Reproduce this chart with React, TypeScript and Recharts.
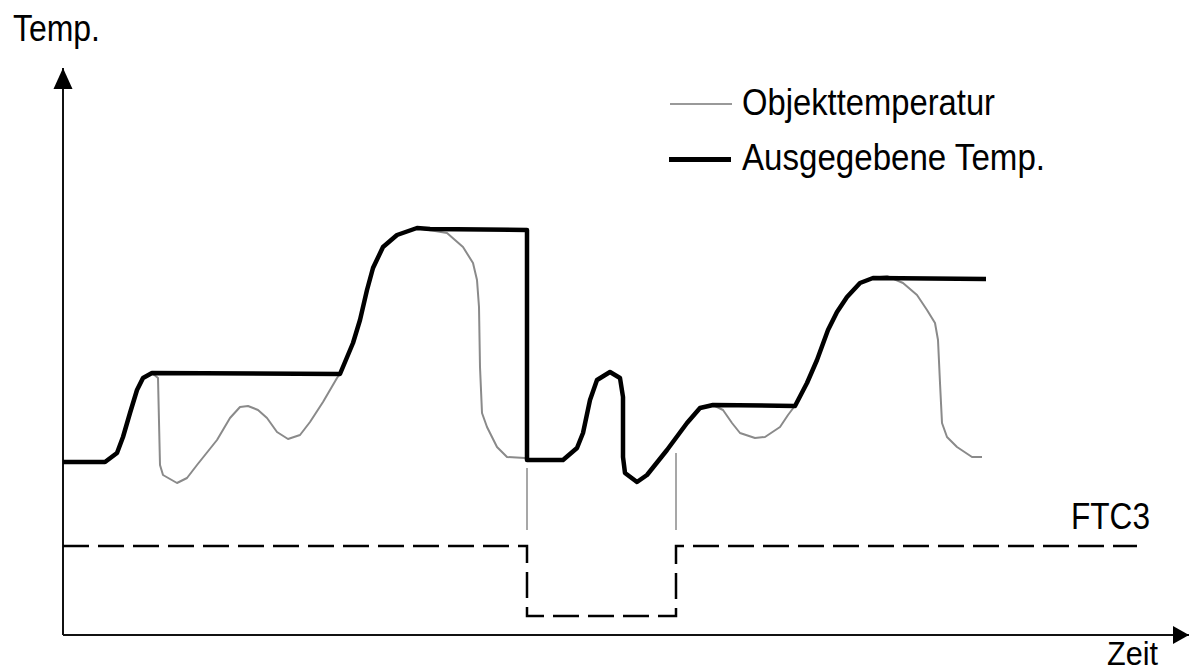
import { LineChart, Line, XAxis, YAxis, ReferenceDot, ReferenceLine, Legend } from "recharts";

const FONT = '"Liberation Sans", Arial, sans-serif';

// [Zeit, Temp.] (arbitrary units, 0 = axis origin)
const objektTemperatur: [number, number][] = [
  [0, 173], [42, 173], [54, 182], [60, 198], [67, 222], [74, 245], [80, 257], [89, 262],
  [95, 257], [97, 170], [100, 160], [114, 152], [124, 157], [134, 170], [154, 195], [167, 217],
  [177, 228], [185, 229], [195, 225], [204, 217], [214, 203], [225, 196], [237, 200], [247, 213],
  [260, 233], [274, 257], [277, 261], [290, 292], [297, 315], [304, 345], [310, 367], [320, 388],
  [334, 400], [354, 407], [360, 406], [384, 402], [400, 388], [410, 372], [414, 355], [416, 328],
  [417, 268], [419, 222], [424, 208], [434, 188], [444, 178], [462, 177], [464, 175],
  [500, 175], [514, 187], [520, 202], [527, 235], [534, 255], [547, 263], [557, 257], [560, 238],
  [560, 178], [562, 162], [574, 153], [584, 160], [604, 185], [624, 212], [637, 227], [650, 230],
  [660, 225], [669, 212], [677, 202], [692, 197], [702, 198], [717, 208], [725, 220], [734, 232],
  [744, 252], [754, 275], [765, 305], [774, 323], [784, 338], [797, 352], [810, 357], [824, 359],
  [840, 352], [854, 340], [864, 325], [872, 312], [875, 295], [877, 252], [879, 212], [884, 198],
  [894, 188], [909, 178], [919, 178],
];

const ausgegebeneTemp: [number, number][] = [
  [0, 173], [42, 173], [54, 182], [60, 198], [67, 222], [74, 245], [80, 257], [89, 262],
  [277, 261], [290, 292], [297, 315], [304, 345], [310, 367], [320, 388], [334, 400], [354, 407],
  [367, 406], [464, 405], [464, 175], [500, 175], [514, 187], [520, 202], [527, 235], [534, 255],
  [547, 263], [557, 257], [560, 238], [560, 178], [562, 162], [574, 153], [584, 160], [604, 185],
  [624, 212], [637, 227], [650, 230], [732, 229], [744, 252], [754, 275], [765, 305], [774, 323],
  [784, 338], [797, 352], [810, 357], [923, 356],
];

const ftc3Signal: [number, number][] = [
  [0, 89], [464, 89], [464, 19], [613, 19], [613, 89], [1074, 89],
];

const markerZeiten = [464, 613];
const markerOben = [167, 182];
const markerUnten = 105;

const ZEIT_MAX = 1126;
const TEMP_MAX = 567;

const toRows = (pts: [number, number][]) => pts.map(([t, v]) => ({ t, v }));

const textStyle = { fontFamily: FONT, fontSize: 36, fill: "#000" };

function ArrowUp({ cx, cy }: any) {
  return (
    <g>
      <path d={`M${cx},${cy} L${cx - 9.5},${cy + 21} L${cx + 9.5},${cy + 21} Z`} fill="#000" />
      <text x={cx - 50} y={cy - 27} textLength={87} lengthAdjust="spacingAndGlyphs" {...textStyle}>
        Temp.
      </text>
    </g>
  );
}

function ArrowRight({ cx, cy }: any) {
  return (
    <g>
      <path d={`M${cx},${cy} L${cx - 16},${cy - 9} L${cx - 16},${cy + 9} Z`} fill="#000" />
      <text x={cx - 82} y={cy + 30} textLength={51} lengthAdjust="spacingAndGlyphs" {...textStyle} fontSize={34}>
        Zeit
      </text>
    </g>
  );
}

function Ftc3Label(props: any) {
  const { x, y, index } = props;
  if (index !== ftc3Signal.length - 1) return <g />;
  return (
    <text x={x + 13} y={y - 17.5} textAnchor="end" textLength={79} lengthAdjust="spacingAndGlyphs" {...textStyle}>
      FTC3
    </text>
  );
}

function LegendBox() {
  return (
    <svg width={420} height={100}>
      <line x1={10} x2={72} y1={24} y2={24} stroke="#999" strokeWidth={2} />
      <text x={82} y={35} textLength={253} lengthAdjust="spacingAndGlyphs" {...textStyle}>
        Objekttemperatur
      </text>
      <line x1={9} x2={71} y1={79.5} y2={79.5} stroke="#000" strokeWidth={5} />
      <text x={82} y={90} textLength={303} lengthAdjust="spacingAndGlyphs" {...textStyle}>
        Ausgegebene Temp.
      </text>
    </svg>
  );
}

export default function App() {
  return (
    <div style={{ position: "absolute", left: 0, top: 0, width: 1189, height: 672, background: "#fff" }}>
      <LineChart width={1189} height={672} margin={{ top: 68, right: 0, bottom: 37, left: 63 }}>
        <XAxis type="number" dataKey="t" domain={[0, ZEIT_MAX]} hide />
        <YAxis type="number" dataKey="v" domain={[0, TEMP_MAX]} hide />
        {/* axes drawn as lines so they sit exactly on the origin */}
        <ReferenceLine y={0} stroke="#111" strokeWidth={2} ifOverflow="visible" />
        <ReferenceLine x={0} stroke="#111" strokeWidth={2} ifOverflow="visible" />
        {markerZeiten.map((t, i) => (
          <ReferenceLine
            key={t}
            segment={[{ x: t, y: markerUnten }, { x: t, y: markerOben[i] }]}
            stroke="#8a8a8a"
            strokeWidth={1.5}
            ifOverflow="visible"
          />
        ))}
        <Line
          data={toRows(ftc3Signal)}
          dataKey="v"
          type="linear"
          stroke="#000"
          strokeWidth={2.5}
          strokeDasharray="26 9"
          dot={false}
          activeDot={false}
          label={Ftc3Label}
          isAnimationActive={false}
        />
        <Line
          data={toRows(objektTemperatur)}
          dataKey="v"
          type="linear"
          stroke="#8a8a8a"
          strokeWidth={2}
          strokeLinejoin="round"
          dot={false}
          activeDot={false}
          isAnimationActive={false}
        />
        <Line
          data={toRows(ausgegebeneTemp)}
          dataKey="v"
          type="linear"
          stroke="#000"
          strokeWidth={4.5}
          strokeLinejoin="round"
          dot={false}
          activeDot={false}
          isAnimationActive={false}
        />
        <ReferenceDot x={0} y={TEMP_MAX} r={0} ifOverflow="visible" shape={ArrowUp} />
        <ReferenceDot x={ZEIT_MAX} y={0} r={0} ifOverflow="visible" shape={ArrowRight} />
        <Legend
          layout="horizontal"
          verticalAlign="middle"
          align="center"
          content={LegendBox}
          wrapperStyle={{ left: 660, top: 80, width: 420, height: 100 }}
        />
      </LineChart>
    </div>
  );
}
